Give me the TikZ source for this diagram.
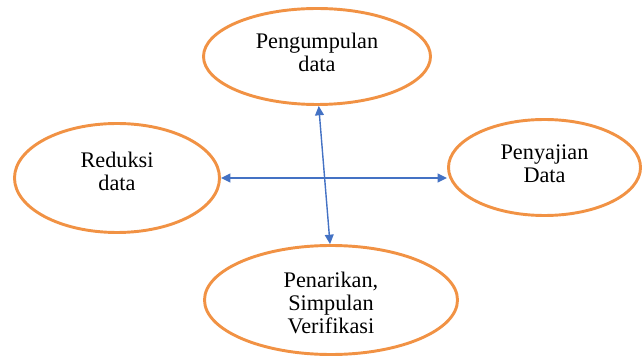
\documentclass[tikz,border=0pt]{standalone}
\usepackage{fontspec}
\setmainfont{Liberation Serif}
\usetikzlibrary{shapes.geometric,arrows.meta}
\definecolor{ovalorange}{RGB}{241,146,68}
\definecolor{arrowblue}{RGB}{68,114,196}

\begin{document}
\begin{tikzpicture}[
		stage/.style={draw=ovalorange, line width=2.5pt, ellipse, align=center, inner sep=0pt, font=\fontsize{19}{19.6}\selectfont},
		link/.style={arrowblue, line width=1.2pt, <->, >={Triangle[length=8pt, width=7.5pt]}}
	]
				\useasboundingbox (0,0) rectangle (19.29,10.68);
				\node[stage, minimum width=6.81cm, minimum height=2.88cm] (kumpul)at(9.51, 8.985) {};
				\node[stage, minimum width=6.15cm, minimum height=3.27cm] (reduksi)at(3.51, 5.34) {};
				\node[stage, minimum width=5.76cm, minimum height=2.88cm] (sajian)at(16.335, 5.655) {};
				\node[stage, minimum width=7.59cm, minimum height=3.27cm] (simpulan)at(9.93, 1.68) {};
				\node[stage, draw=none] (kumpul text)at(9.51, 9.105) {Pengumpulan\\data};
				\node[stage, draw=none] (reduksi text)at(3.51, 5.535) {Reduksi\\data};
				\node[stage, draw=none] (sajian text)at(16.335, 5.76) {Penyajian\\Data};
				\node[stage, draw=none] (simpulan text)at(9.93, 1.59) {Penarikan,\\Simpulan\\Verifikasi};
				\draw[link] (reduksi.east) -- (sajian.west |- reduksi.east);
				\draw[link] (kumpul.-88) -- (simpulan.91);
			\end{tikzpicture}
\end{document}
